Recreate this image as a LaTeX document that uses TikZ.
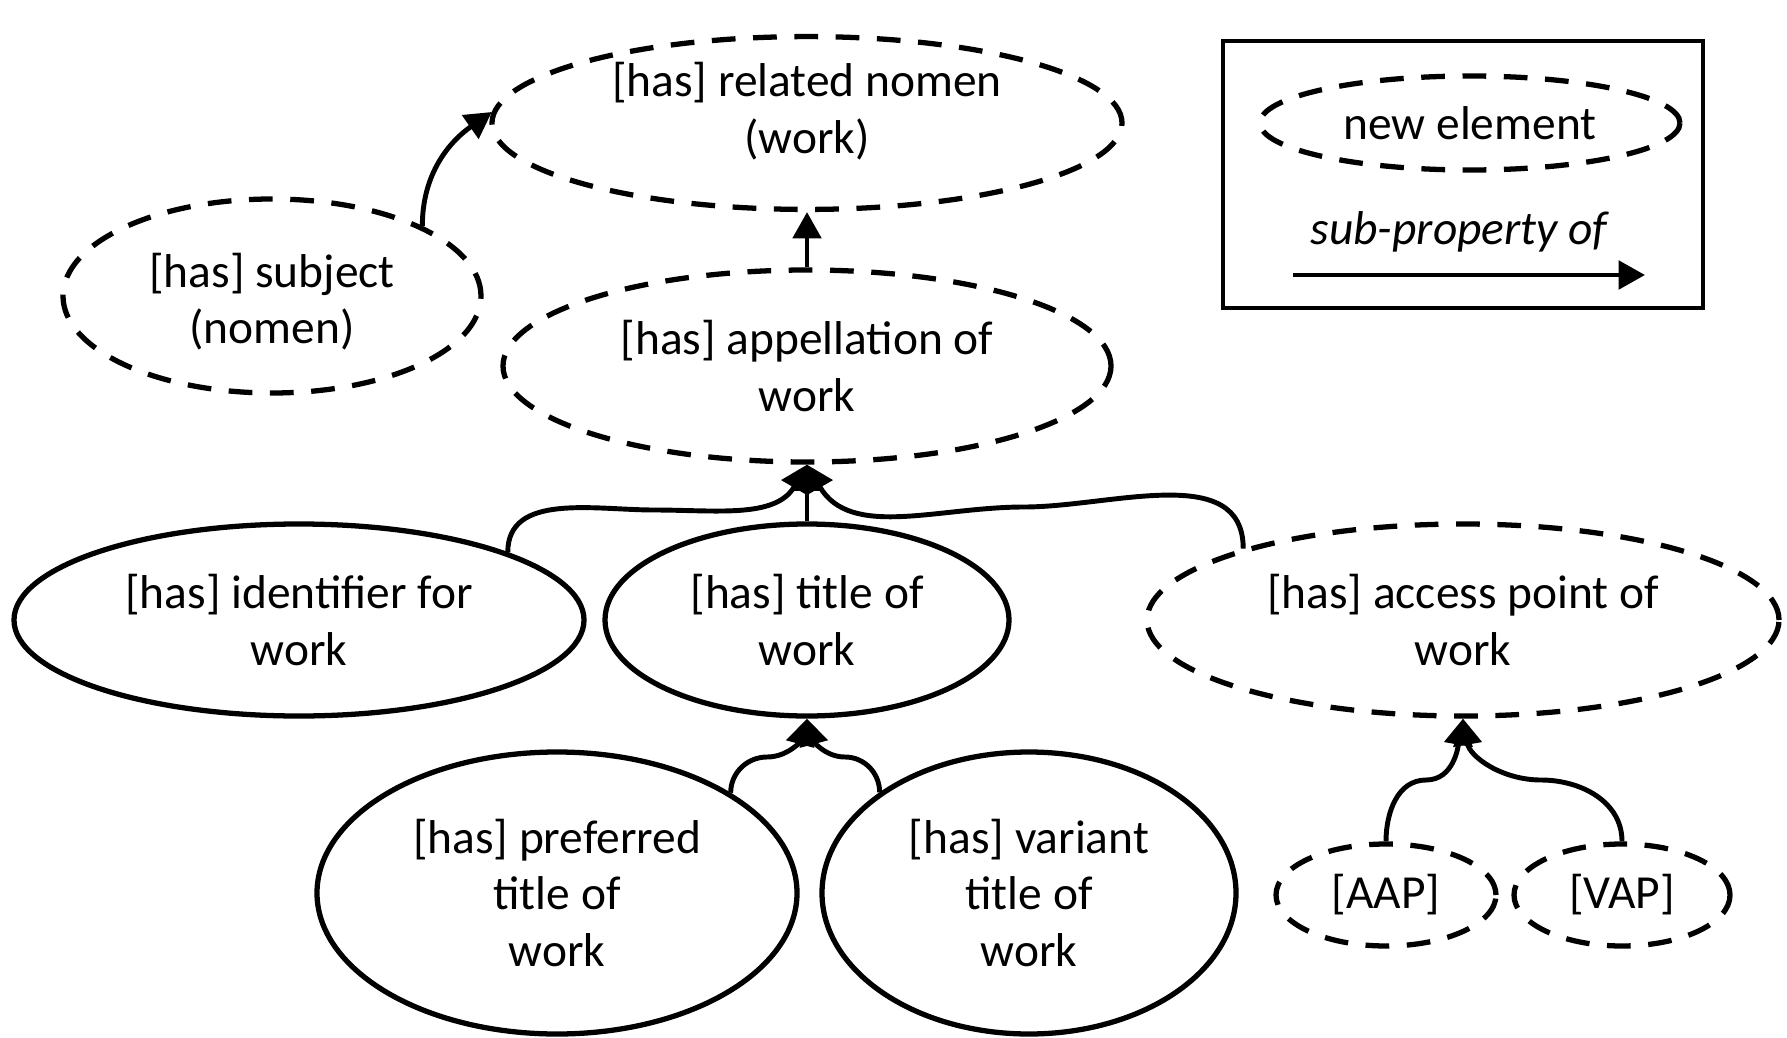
\documentclass[tikz,border=0pt]{standalone}
\usepackage{fontspec}
\setmainfont{Carlito}
\usetikzlibrary{arrows.meta, shapes.geometric}

\begin{document}
\begin{tikzpicture}[line width=3pt, font=\fontsize{27}{32.4}\selectfont]
    \tikzstyle{prop}=[ellipse, draw=black, inner sep=0pt, align=center]
    \tikzstyle{old prop}=[prop]
    \tikzstyle{new prop}=[prop, dash pattern=on 13.5pt off 10pt]
    \tikzstyle{sub}=[-{Triangle[length=15pt,width=16pt]}, line width=2.8pt]

    \useasboundingbox (0,0) rectangle (35.74,-20.76);

    % properties
    \node[new prop, minimum width=12.6cm, minimum height=3.28cm, text depth=0.62cm] (rel) at (16.14,-2.46) {[has] related nomen\\(work)};
    \node[new prop, minimum width=8.36cm, minimum height=3.88cm, text height=2.05cm] (subj) at (5.44,-5.92) {[has] subject\\(nomen)};
    \node[new prop, minimum width=12.16cm, minimum height=3.84cm] (appel) at (16.14,-7.32) {[has] appellation of\\work};
    \node[old prop, minimum width=11.4cm, minimum height=3.84cm] (ident) at (5.98,-12.4) {[has] identifier for\\work};
    \node[old prop, minimum width=8.08cm, minimum height=3.84cm] (title) at (16.14,-12.4) {[has] title of\\work};
    \node[new prop, minimum width=12.64cm, minimum height=3.84cm] (acc) at (29.26,-12.4) {[has] access point of\\work};
    \node[old prop, minimum width=9.6cm, minimum height=5.64cm] (pref) at (11.14,-17.86) {[has] preferred\\title of\\work};
    \node[old prop, minimum width=8.28cm, minimum height=5.64cm] (var) at (20.58,-17.86) {[has] variant\\title of\\work};
    \node[new prop, minimum width=4.4cm, minimum height=2.04cm] (aap) at (27.72,-17.9) {[AAP]};
    \node[new prop, minimum width=4.32cm, minimum height=2.04cm] (vap) at (32.44,-17.9) {[VAP]};

    % bends of the connectors
    \coordinate (lmid) at (13.08,-10.2);
    \coordinate (rmid) at (20.48,-10.14);
    \coordinate (pmid) at (15.34,-15.14);
    \coordinate (vmid) at (16.9,-15.14);
    \coordinate (amid) at (28.52,-15.6);
    \coordinate (bmid) at (30.82,-15.6);

    \draw[sub] (subj.25) to[out=90,in=215] (rel.178);
    \draw[sub] (appel.north) -- (rel.south);
    \draw[sub] (ident.18) to[out=90,in=180] (lmid) to[out=0,in=-120] (appel.south);
    \draw[sub, line width=1.8pt] (title.north) -- (appel.south);
    \draw[sub] (acc.162) to[out=90,in=0] (rmid) to[out=180,in=-60] (appel.south);
    \draw[sub] (pref.30) to[out=90,in=180] (pmid) to[out=0,in=-105] (title.south);
    \draw[sub] (var.146) to[out=90,in=0] (vmid) to[out=180,in=-75] (title.south);
    \draw[sub] (aap.north) to[out=90,in=180] (amid) to[out=0,in=-100] (acc.south);
    \draw[sub] (vap.north) to[out=90,in=0] (bmid) to[out=180,in=-80] (acc.south);

    % legend
    \node[draw, line width=2.8pt, minimum width=9.6cm, minimum height=5.34cm] (legend) at (29.26,-3.49) {};
    \node[new prop, minimum width=8.4cm, minimum height=1.88cm] (newel) at (29.4,-2.46) {new element};
    \node (subtxt) at (29.18,-4.64) {\itshape sub-property of};
    \coordinate (ls) at (25.86,-5.5);
    \coordinate (le) at (32.9,-5.5);
    \draw[sub] (ls) -- (le);
\end{tikzpicture}
\end{document}
